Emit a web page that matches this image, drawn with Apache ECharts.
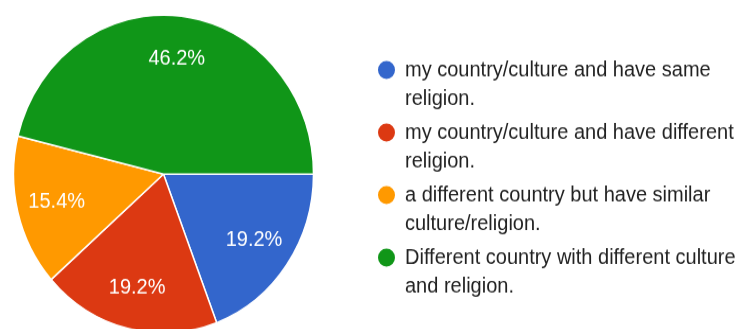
<!DOCTYPE html>
<html>
<head>
<meta charset="utf-8">
<script src="https://cdn.jsdelivr.net/npm/echarts@6/dist/echarts.min.js"></script>
<style>
html, body { margin: 0; padding: 0; background: #fff; overflow: hidden; }
body { width: 742px; height: 329px; }
/* the reference pie is slightly taller than wide, so stretch the drawing a little */
#main { width: 742px; height: 311px; transform: scaleY(1.06); transform-origin: 0 0; }
</style>
</head>
<body>
<div id="main"></div>
<script>
const categories = [
    'my country/culture and have same religion.',
    'my country/culture and have different religion.',
    'a different country but have similar culture/religion.',
    'Different country with different culture and religion.'
];
const counts = [5, 5, 4, 12];
const colors = ['#3366cc', '#dc3912', '#ff9900', '#109618'];

let chart = echarts.init(document.getElementById('main'));

let pieData = [];
let labelData = [];
for (let i = 0; i < categories.length; i++) {
    pieData.push({
        name: categories[i],
        value: counts[i],
        itemStyle: { color: colors[i] }
    });
    labelData.push({
        name: categories[i],
        value: counts[i]
    });
}

const font = 'Liberation Sans, Arial, sans-serif';

var option = {
    backgroundColor: '#ffffff',
    animation: false,
    legend: {
        orient: 'vertical',
        left: 376,
        top: 25.5,
        padding: 0,
        itemGap: -22,
        itemWidth: 27,
        itemHeight: 19,
        icon: 'circle',
        selectedMode: false,
        data: categories,
        // empty first line so the dot lines up with the first text line
        formatter: function (name) {
            return '\n' + name;
        },
        textStyle: {
            color: '#222222',
            fontFamily: font,
            fontSize: 20,
            lineHeight: 27,
            width: 345,
            overflow: 'break'
        }
    },
    series: [
        {
            type: 'pie',
            center: [163.5, 164.2],
            radius: [0, 150],
            startAngle: 0,
            clockwise: true,
            silent: true,
            label: { show: false },
            labelLine: { show: false },
            emphasis: { disabled: true },
            itemStyle: {
                borderColor: '#ffffff',
                borderWidth: 1.5
            },
            data: pieData
        },
        {
            // transparent ring only used to put the percentages further out
            type: 'pie',
            center: [163.5, 164.2],
            radius: [64, 150],
            startAngle: 0,
            clockwise: true,
            silent: true,
            percentPrecision: 1,
            legendHoverLink: false,
            emphasis: { disabled: true },
            itemStyle: {
                color: 'rgba(0,0,0,0)',
                borderWidth: 0
            },
            label: {
                show: true,
                position: 'inside',
                formatter: '{d}%',
                color: '#ffffff',
                fontFamily: font,
                fontSize: 20
            },
            labelLine: { show: false },
            data: labelData
        }
    ]
};

chart.setOption(option);
</script>
</body>
</html>
